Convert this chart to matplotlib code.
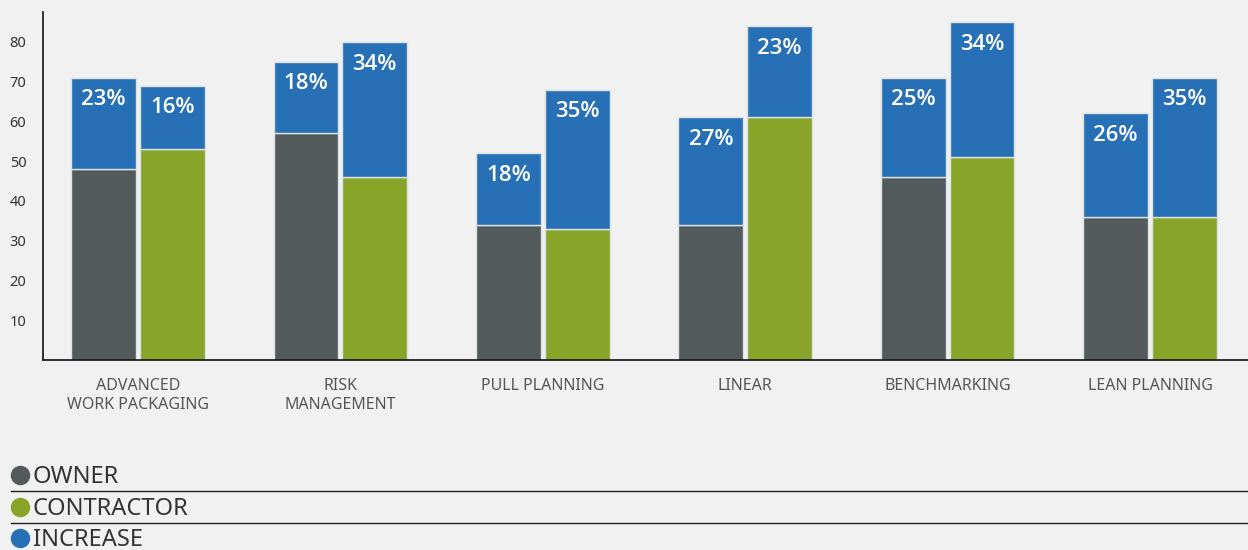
import matplotlib
matplotlib.use("Agg")
import matplotlib.pyplot as plt
from matplotlib.lines import Line2D
import numpy as np

# Survey data: baseline adoption and increase, by practice
categories = ["ADVANCED\nWORK PACKAGING", "RISK\nMANAGEMENT", "PULL PLANNING",
              "LINEAR", "BENCHMARKING", "LEAN PLANNING"]
owner = [48, 57, 34, 34, 46, 36]
owner_increase = [23, 18, 18, 27, 25, 26]
contractor = [53, 46, 33, 61, 51, 36]
contractor_increase = [16, 34, 35, 23, 34, 35]
yticks = [10, 20, 30, 40, 50, 60, 70, 80]
legend_labels = ["OWNER", "CONTRACTOR", "INCREASE"]

BG = "#f0f1f0"
C_OWNER = "#525a5b"
C_CONTR = "#88a52a"
C_INC = "#2870b6"
EDGE = "#dde2e2"

plt.rcParams["font.family"] = ["Noto Sans", "DejaVu Sans"]

W, H = 1248, 550
fig = plt.figure(figsize=(W / 100, H / 100), dpi=100, facecolor=BG)
ax = fig.add_axes([43 / W, (H - 360) / H, 1 - 43 / W, 348 / H], facecolor=BG)

x = np.arange(len(categories))
bw = 0.32
off = 0.17

def stacked(xpos, base, inc, color):
    ax.bar(xpos, base, bw, color=color, edgecolor=EDGE, linewidth=1.0, zorder=2)
    bars = ax.bar(xpos, inc, bw, bottom=base, color=C_INC, edgecolor=EDGE,
                  linewidth=1.0, zorder=2)
    for b, v, bot in zip(bars, inc, base):
        ax.annotate(f"{v}%", (b.get_x() + b.get_width() / 2, bot + v),
                    xytext=(0, -16), textcoords="offset points",
                    ha="center", va="center", color="white",
                    fontsize=16, fontweight="semibold",
                    family=["Open Sans", "DejaVu Sans"], zorder=3)

stacked(x - off, owner, owner_increase, C_OWNER)
stacked(x + off, contractor, contractor_increase, C_CONTR)

ax.set_xlim(-0.469, len(categories) - 1 + 0.484)
ax.set_ylim(0, 87.5)
ax.set_yticks(yticks)
ax.set_yticklabels([str(t) for t in yticks], fontsize=10.5, color="#333333")
ax.set_xticks(x)
ax.set_xticklabels(categories, fontsize=11.5, color="#555555", linespacing=1.25)
ax.tick_params(axis="y", length=0, pad=12)
ax.tick_params(axis="x", length=0, pad=13)
for s in ("top", "right"):
    ax.spines[s].set_visible(False)
for s in ("left", "bottom"):
    ax.spines[s].set_color("#111111")
    ax.spines[s].set_linewidth(1.2)

# Legend: dots with labels separated by rules
leg_colors = [C_OWNER, C_CONTR, C_INC]
leg_y = [475, 507, 538]
for i, (lab, col, yp) in enumerate(zip(legend_labels, leg_colors, leg_y)):
    fy = (H - yp) / H
    fig.add_artist(Line2D([20 / W], [fy], marker="o", markersize=13,
                          color=col, linestyle="none",
                          transform=fig.transFigure))
    fig.text(33 / W, fy - 2 / H, lab, fontsize=17, fontweight="light",
             color="#333333", va="center", ha="left")
    if i < 2:
        ly = (H - (yp + 16)) / H
        fig.add_artist(Line2D([11 / W, 1.0], [ly, ly], color="#222222",
                              linewidth=1.0, transform=fig.transFigure))

fig.savefig("out.png", dpi=100, facecolor=BG)
